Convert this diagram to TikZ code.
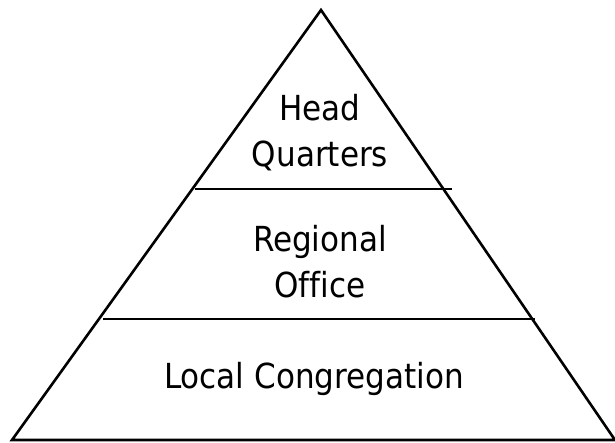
\documentclass[tikz,border=0pt]{standalone}
\usepackage{fontspec}
\setmainfont[Ligatures=NoCommon]{DejaVu Sans Condensed}
\begin{document}
\begin{tikzpicture}[x=1pt,y=1pt,line width=2.6pt,
  tierlabel/.style={align=center,inner sep=0pt,font=\fontsize{34.5}{46}\selectfont}]
  \useasboundingbox (0,0) rectangle (615,442);
  % pyramid outline
  \coordinate (apex) at (321,432);
  \coordinate (baseL) at (12,2);
  \coordinate (baseR) at (615,2);
  \draw (apex) -- (baseL) -- (baseR) -- cycle;
  % dividing lines
  \coordinate (upL) at (195,253);
  \coordinate (upR) at (452,253);
  \coordinate (midL) at (103,123);
  \coordinate (midR) at (535,123);
  \draw (upL) -- (upR);
  \draw (midL) -- (midR);
  % tiers
  \node [tierlabel] (hq) at (320,309) {Head\\Quarters};
  \node [tierlabel] (office) at (320,180) {Regional\\Office};
  \node [tierlabel] (local) at (314,63) {Local Congregation};
\end{tikzpicture}
\end{document}
